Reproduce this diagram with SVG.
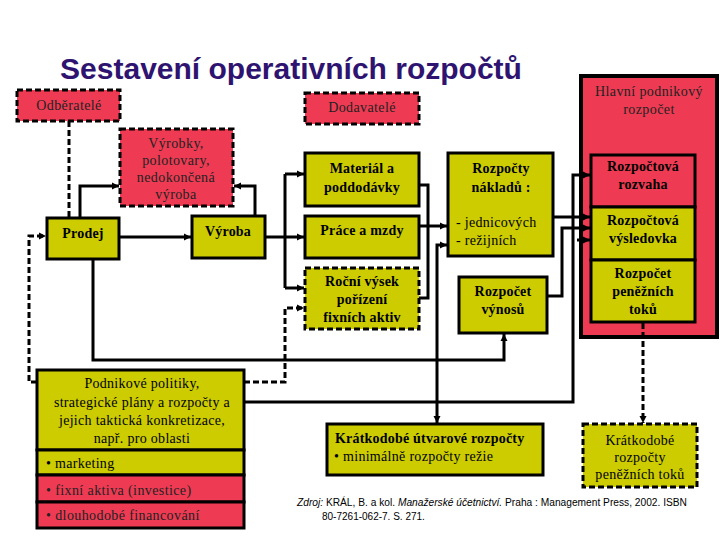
<svg xmlns="http://www.w3.org/2000/svg" width="720" height="540" viewBox="0 0 720 540">
<defs>
<marker id="ar" markerUnits="userSpaceOnUse" markerWidth="8" markerHeight="8" refX="7" refY="4" orient="auto">
<path d="M0,0.5 L7,4 L0,7.5 z" fill="#000"/>
</marker>
<style>
.y{fill:#CCCC00;stroke:#000;stroke-width:3}
.r{fill:#EE3B53;stroke:#000;stroke-width:3}
.d{stroke-dasharray:6 3}
.t{font-size:14px;fill:#000;letter-spacing:0.3px}
.tb{font-size:14px;font-weight:bold;fill:#000;letter-spacing:0.2px}
.tr{font-size:14px;fill:#222;letter-spacing:0.4px}
.c{text-anchor:middle}
.ln{fill:none;stroke:#000;stroke-width:3}
.ld{fill:none;stroke:#000;stroke-width:3;stroke-dasharray:6 3}
</style>
</defs>
<rect width="720" height="540" fill="#fff"/>
<text x="291" y="79" text-anchor="middle" font-family="Liberation Sans, Arial, sans-serif" font-size="30" font-weight="bold" fill="#2E1470">Sestavení operativních rozpočtů</text>

<g font-family="Liberation Serif, Tinos, Times New Roman, DejaVu Serif, serif">
<g id="odberatele"><rect class="r d" x="17" y="90" width="103" height="31"/><text class="tr c" x="69" y="110">Odběratelé</text></g>
<g id="dodavatele"><rect class="r d" x="305" y="93" width="114" height="31"/><text class="tr c" x="362" y="112">Dodavatelé</text></g>
<g id="vyrobky"><rect class="r d" x="120" y="129" width="113" height="77"/>
<text class="tr c" x="176" y="148">Výrobky,</text><text class="tr c" x="176" y="165">polotovary,</text><text class="tr c" x="176" y="182">nedokončená</text><text class="tr c" x="176" y="199">výroba</text></g>
<g id="prodej"><rect class="y" x="47" y="218" width="72" height="41"/><text class="tb c" x="83" y="238">Prodej</text></g>
<g id="vyroba"><rect class="y" x="192" y="216" width="73" height="42"/><text class="tb c" x="228" y="236">Výroba</text></g>
<g id="material"><rect class="y" x="305" y="153" width="114" height="53"/><text class="tb c" x="362" y="173">Materiál a</text><text class="tb c" x="362" y="192">poddodávky</text></g>
<g id="prace"><rect class="y" x="305" y="216" width="114" height="42"/><text class="tb c" x="362" y="235">Práce a mzdy</text></g>
<g id="rocni"><rect class="y d" x="305" y="268" width="114" height="61"/><text class="tb c" x="362" y="286">Roční výsek</text><text class="tb c" x="362" y="304">pořízení</text><text class="tb c" x="362" y="322">fixních aktiv</text></g>
<g id="naklady"><rect class="y" x="448" y="153" width="105" height="103"/><text class="tb c" x="501" y="173">Rozpočty</text><text class="tb c" x="501" y="192">nákladů :</text><text class="t" x="456" y="227">- jednicových</text><text class="t" x="456" y="245">- režijních</text></g>
<g id="vynosy"><rect class="y" x="459" y="277" width="88" height="56"/><text class="tb c" x="503" y="296">Rozpočet</text><text class="tb c" x="503" y="314">výnosů</text></g>
<g id="hlavni"><rect fill="#EE3B53" stroke="#000" stroke-width="4" x="581" y="76" width="136" height="261"/>
<text class="tr c" x="649" y="96">Hlavní podnikový</text><text class="tr c" x="649" y="114">rozpočet</text>
<rect class="r" x="591" y="155" width="104" height="52"/><text class="tb c" x="643" y="171">Rozpočtová</text><text class="tb c" x="643" y="189">rozvaha</text>
<rect class="y" x="591" y="207" width="104" height="53"/><text class="tb c" x="643" y="225">Rozpočtová</text><text class="tb c" x="643" y="243">výsledovka</text>
<rect class="y" x="591" y="260" width="104" height="62"/><text class="tb c" x="643" y="278">Rozpočet</text><text class="tb c" x="643" y="296">peněžních</text><text class="tb c" x="643" y="314">toků</text></g>
<g id="politiky"><rect class="y" x="37" y="370" width="207" height="80"/>
<text class="t c" x="142" y="388">Podnikové politiky,</text><text class="t c" x="142" y="407">strategické plány a rozpočty a</text><text class="t c" x="142" y="425">jejich taktická konkretizace,</text><text class="t c" x="142" y="443">např. pro oblasti</text>
<rect class="y" x="37" y="450" width="207" height="25"/><text class="t" x="46" y="468">• marketing</text>
<rect class="r" x="37" y="475" width="207" height="27"/><text class="tr" x="46" y="495">• fixní aktiva (investice)</text>
<rect class="r" x="37" y="502" width="207" height="26"/><text class="tr" x="46" y="520">• dlouhodobé financování</text></g>
<g id="utvarove"><rect class="y" x="327" y="424" width="216" height="51"/><text class="tb" x="335" y="443">Krátkodobé útvarové rozpočty</text><text class="t" x="334" y="461">• minimálně rozpočty režie</text></g>
<g id="penezni"><rect class="y d" x="583" y="424" width="114" height="63"/><text class="t c" x="640" y="445">Krátkodobé</text><text class="t c" x="640" y="462">rozpočty</text><text class="t c" x="640" y="479">peněžních toků</text></g>
</g>
<g id="zdroj" font-family="Liberation Sans, Arial, sans-serif" font-size="10" fill="#000">
<text x="297" y="506" textLength="390" lengthAdjust="spacingAndGlyphs"><tspan font-style="italic">Zdroj:</tspan> KRÁL, B. a kol. <tspan font-style="italic">Manažerské účetnictví.</tspan> Praha : Management Press, 2002. ISBN</text>
<text x="322" y="520">80-7261-062-7. S. 271.</text></g>

<g id="connectors">
<path class="ld" d="M69,121 V217"/>
<path class="ln" d="M80,217 V186 H119" marker-end="url(#ar)"/>
<path class="ln" d="M255,215 V186 H234" marker-end="url(#ar)"/>
<path class="ln" d="M119,237 H191" marker-end="url(#ar)"/>
<path class="ln" d="M265,237 H304" marker-end="url(#ar)"/>
<path class="ln" d="M285,174 V288"/>
<path class="ln" d="M285,174 H304" marker-end="url(#ar)"/>
<path class="ln" d="M285,288 H304" marker-end="url(#ar)"/>
<path class="ld" d="M244,382 H285 V308 H304" marker-end="url(#ar)"/>
<path class="ld" d="M37,382 H29 V236 H46" marker-end="url(#ar)"/>
<path class="ln" d="M93,259 V360 H504 V334" marker-end="url(#ar)"/>
<path class="ln" d="M244,402 H573 V175 H590" marker-end="url(#ar)"/>
<path class="ln" d="M419,185 H428 V298 H419"/>
<path class="ln" d="M419,226 H447" marker-end="url(#ar)"/>
<path class="ln" d="M437,330 V245 H447" marker-end="url(#ar)"/>
<path class="ln" d="M437,330 V423" marker-end="url(#ar)"/>
<path class="ln" d="M553,217 H590" marker-end="url(#ar)"/>
<path class="ln" d="M547,296 H562 V228 H590" marker-end="url(#ar)"/>
<path class="ln" d="M577,240 H590" marker-end="url(#ar)"/>
<path class="ld" d="M643,323 V423" marker-end="url(#ar)"/>
</g>
</svg>
